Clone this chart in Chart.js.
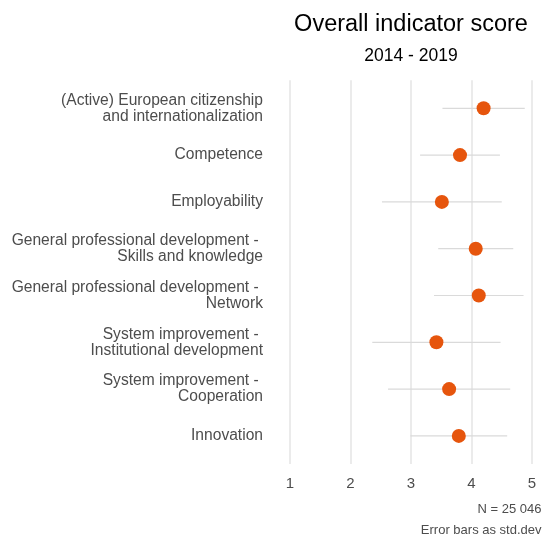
<!DOCTYPE html>
<html>
<head>
<meta charset="utf-8">
<script src="https://cdn.jsdelivr.net/npm/chart.js@4/dist/chart.umd.min.js"></script>
<style>
html,body{margin:0;padding:0;background:#fff;}
canvas{display:block;}
</style>
</head>
<body>
<canvas id="c" width="544" height="545"></canvas>
<script>
const categories = [
  ["(Active) European citizenship", "and internationalization"],
  ["Competence"],
  ["Employability"],
  ["General professional development - ", "Skills and knowledge"],
  ["General professional development - ", "Network"],
  ["System improvement - ", "Institutional development"],
  ["System improvement - ", "Cooperation"],
  ["Innovation"]
];
const means = [4.20, 3.81, 3.51, 4.07, 4.12, 3.42, 3.63, 3.79];
const stdDevs = [0.68, 0.66, 0.99, 0.62, 0.74, 1.06, 1.01, 0.80];
const xTicks = [1, 2, 3, 4, 5];
const titleText = "Overall indicator score";
const subtitleText = "2014 - 2019";
const footnotes = ["N = 25 046", "Error bars as std.dev"];

const FONT = "'Liberation Sans', Arial, Helvetica, sans-serif";

const pointData = means.map((m, i) => ({x: m, y: i + 1}));
const errData = [];
means.forEach((m, i) => {
  errData.push({x: m - stdDevs[i], y: i + 1});
  errData.push({x: m + stdDevs[i], y: i + 1});
});

const footnotePlugin = {
  id: 'footnotes',
  afterDraw(chart) {
    const ctx = chart.ctx;
    ctx.save();
    ctx.font = "13px " + FONT;
    ctx.fillStyle = '#4d4d4d';
    ctx.textAlign = 'right';
    ctx.textBaseline = 'middle';
    ctx.fillText(footnotes[0], 541.5, 509.5);
    ctx.fillText(footnotes[1], 541.5, 530.5);
    ctx.restore();
  }
};

new Chart(document.getElementById('c'), {
  type: 'scatter',
  data: {
    datasets: [
      {
        label: 'Mean',
        data: pointData,
        backgroundColor: '#e6550d',
        borderColor: '#e6550d',
        pointRadius: 7,
        pointHoverRadius: 7,
        borderWidth: 0,
        order: 0
      },
      {
        label: 'Std. dev.',
        data: errData,
        showLine: true,
        borderColor: '#dadada',
        borderWidth: 1.2,
        pointRadius: 0,
        pointHoverRadius: 0,
        segment: {
          borderColor: ctx => (ctx.p0DataIndex % 2 === 0 ? '#dadada' : 'rgba(0,0,0,0)')
        },
        order: 1
      }
    ]
  },
  options: {
    responsive: false,
    animation: false,
    layout: {padding: {left: 0, right: 12, top: 0, bottom: 51}},
    plugins: {
      legend: {display: false},
      tooltip: {enabled: false},
      title: {
        display: true,
        text: titleText,
        fullSize: false,
        color: '#000',
        font: {family: FONT, size: 23.5, weight: 'normal', lineHeight: 1.2},
        padding: {top: 10, bottom: 4}
      },
      subtitle: {
        display: true,
        text: subtitleText,
        fullSize: false,
        color: '#000',
        font: {family: FONT, size: 17.5, weight: 'normal', lineHeight: 1.2},
        padding: {top: 3, bottom: 14}
      }
    },
    scales: {
      x: {
        type: 'linear',
        min: 1,
        max: 5,
        afterBuildTicks: s => { s.ticks = xTicks.map(v => ({value: v})); },
        afterFit: s => { s.height = 30; s.paddingLeft = 0; s.paddingRight = 0; },
        grid: {color: '#ebebeb', lineWidth: 2, drawTicks: false},
        border: {display: false},
        ticks: {
          color: '#4d4d4d',
          font: {family: FONT, size: 15},
          padding: 11
        }
      },
      y: {
        type: 'linear',
        reverse: true,
        min: 0.4,
        max: 8.6,
        afterBuildTicks: s => { s.ticks = categories.map((c, i) => ({value: i + 1})); },
        afterFit: s => { s.width = 290; s.paddingTop = 0; s.paddingBottom = 0; },
        grid: {display: false, drawTicks: false},
        border: {display: false},
        ticks: {
          color: '#4d4d4d',
          font: {family: FONT, size: 15.6, lineHeight: 1.03},
          padding: 27,
          callback: v => categories[Math.round(v) - 1]
        }
      }
    }
  },
  plugins: [footnotePlugin]
});
</script>
</body>
</html>
